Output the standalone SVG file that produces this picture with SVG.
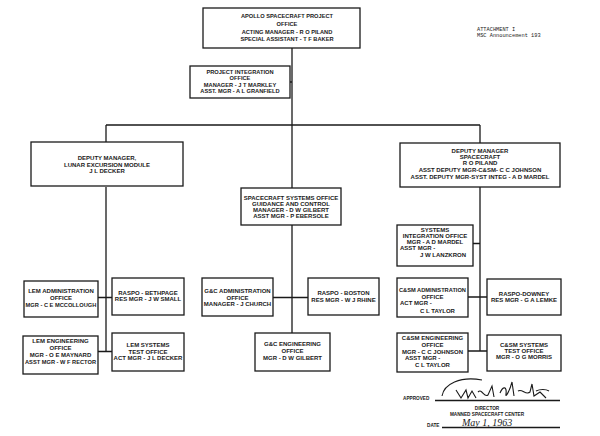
<svg xmlns="http://www.w3.org/2000/svg" width="600" height="436" viewBox="0 0 600 436">
<style>
.b{fill:#fff;stroke:#1a1a1a;stroke-width:1.3}
.t{font-family:"Liberation Sans",Arial,sans-serif;font-weight:bold;font-size:6px;fill:#1a1a1a;text-anchor:middle}
.k{font-size:5.7px}
.s{text-anchor:start}
.c{stroke:#1a1a1a;stroke-width:1.3;fill:none}
.a{font-family:"Liberation Sans",Arial,sans-serif;font-weight:bold;font-size:4.7px;fill:#1a1a1a}
.m{font-family:"Liberation Mono","Courier New",monospace;font-size:5.3px;fill:#1a1a1a}
.h{font-family:"Liberation Serif","Times New Roman",serif;font-style:italic;font-size:10px;fill:#1a1a1a}
</style>
<rect width="600" height="436" fill="#fff"/>
<g id="connectors">
<path class="c" d="M292 48V188M290 82H292M106 125H480M106 125V142M480 125V143M106 187V351.5M98 297.5H112M98 351.5H112M292 225V333M273 297.5H308M480 187V351M473 243.5H480M468 297H487M468 351H487"/>
</g>
<g id="apollo-office"><rect class="b" x="203" y="8" width="157" height="40"/>
<text class="t k" x="287" y="18.2">APOLLO SPACECRAFT PROJECT</text>
<text class="t k" x="287" y="26">OFFICE</text>
<text class="t k" x="287" y="33.6">ACTING MANAGER - R O PILAND</text>
<text class="t k" x="287" y="40.8">SPECIAL ASSISTANT - T F BAKER</text></g>
<g id="attachment">
<text class="m" x="477" y="31">ATTACHMENT I</text>
<text class="m" x="477" y="37">MSC Announcement 193</text></g>
<g id="project-integration"><rect class="b" x="190" y="66" width="100" height="32"/>
<text class="t k" x="240" y="74">PROJECT INTEGRATION</text>
<text class="t k" x="240" y="80.3">OFFICE</text>
<text class="t k" x="240" y="86.6">MANAGER - J T MARKLEY</text>
<text class="t k" x="240" y="92.9">ASST. MGR - A L GRANFIELD</text></g>
<g id="deputy-lem"><rect class="b" x="31" y="142" width="152" height="44"/>
<text class="t" x="107" y="160.2">DEPUTY MANAGER,</text>
<text class="t" x="107" y="166.6">LUNAR EXCURSION MODULE</text>
<text class="t" x="107" y="173">J L DECKER</text></g>
<g id="spacecraft-systems"><rect class="b" x="241" y="188" width="100" height="37"/>
<text class="t" x="291" y="199.8">SPACECRAFT SYSTEMS OFFICE</text>
<text class="t" x="291" y="206">GUIDANCE AND CONTROL</text>
<text class="t" x="291" y="212.2">MANAGER - D W GILBERT</text>
<text class="t" x="291" y="218.4">ASST MGR - P EBERSOLE</text></g>
<g id="deputy-spacecraft"><rect class="b" x="400" y="143" width="160" height="44"/>
<text class="t" x="480" y="152.8">DEPUTY MANAGER</text>
<text class="t" x="480" y="159">SPACECRAFT</text>
<text class="t" x="480" y="165.4">R O PILAND</text>
<text class="t" x="480" y="172">ASST DEPUTY MGR-C&amp;SM- C C JOHNSON</text>
<text class="t" x="480" y="178.6">ASST. DEPUTY MGR-SYST INTEG - A D MARDEL</text></g>
<g id="systems-integration"><rect class="b" x="397" y="225" width="76" height="41"/>
<text class="t" x="435" y="232">SYSTEMS</text>
<text class="t" x="435" y="238">INTEGRATION OFFICE</text>
<text class="t" x="435" y="244.4">MGR - A D MARDEL</text>
<text class="t s" x="400" y="250.4">ASST MGR -</text>
<text class="t s" x="420" y="256.6">J W LANZKRON</text></g>
<g id="lem-admin"><rect class="b" x="24" y="281" width="74" height="36"/>
<text class="t" x="61" y="293">LEM ADMINISTRATION</text>
<text class="t" x="61" y="299.7">OFFICE</text>
<text class="t k" x="61" y="306.5">MGR - C E MCCOLLOUGH</text></g>
<g id="raspo-bethpage"><rect class="b" x="112" y="278" width="72" height="37"/>
<text class="t" x="148" y="295.4">RASPO - BETHPAGE</text>
<text class="t" x="148" y="301.4">RES MGR - J W SMALL</text></g>
<g id="lem-engineering"><rect class="b" x="23" y="336" width="75" height="38"/>
<text class="t" x="60.5" y="343">LEM ENGINEERING</text>
<text class="t" x="60.5" y="349.6">OFFICE</text>
<text class="t" x="60.5" y="357">MGR - O E MAYNARD</text>
<text class="t k" x="60.5" y="364.4">ASST MGR - W F RECTOR</text></g>
<g id="lem-systems-test"><rect class="b" x="112" y="333" width="72" height="38"/>
<text class="t" x="148" y="347">LEM SYSTEMS</text>
<text class="t" x="148" y="353.6">TEST OFFICE</text>
<text class="t" x="148" y="360.2">ACT MGR - J L DECKER</text></g>
<g id="gc-admin"><rect class="b" x="202" y="278" width="71" height="38"/>
<text class="t" x="237.5" y="293">G&amp;C ADMINISTRATION</text>
<text class="t" x="237.5" y="299.7">OFFICE</text>
<text class="t" x="237.5" y="306.4">MANAGER - J CHURCH</text></g>
<g id="raspo-boston"><rect class="b" x="308" y="278" width="71" height="37"/>
<text class="t" x="343.5" y="295.4">RASPO - BOSTON</text>
<text class="t" x="343.5" y="301.6">RES MGR - W J RHINE</text></g>
<g id="gc-engineering"><rect class="b" x="255" y="333" width="75" height="38"/>
<text class="t" x="292.5" y="346.4">G&amp;C ENGINEERING</text>
<text class="t" x="292.5" y="353">OFFICE</text>
<text class="t" x="292.5" y="359.8">MGR - D W GILBERT</text></g>
<g id="csm-admin"><rect class="b" x="397" y="278" width="71" height="39"/>
<text class="t k" x="432.5" y="292">C&amp;SM ADMINISTRATION</text>
<text class="t" x="432.5" y="298.8">OFFICE</text>
<text class="t s" x="400" y="305.4">ACT MGR -</text>
<text class="t s" x="420" y="312.6">C L TAYLOR</text></g>
<g id="raspo-downey"><rect class="b" x="487" y="279" width="74" height="36"/>
<text class="t" x="524" y="295.5">RASPO-DOWNEY</text>
<text class="t" x="524" y="301.6">RES MGR - G A LEMKE</text></g>
<g id="csm-engineering"><rect class="b" x="397" y="333" width="71" height="39"/>
<text class="t" x="432.5" y="339.9">C&amp;SM ENGINEERING</text>
<text class="t" x="432.5" y="347">OFFICE</text>
<text class="t" x="432.5" y="353.8">MGR - C C JOHNSON</text>
<text class="t s" x="405" y="360.4">ASST MGR -</text>
<text class="t s" x="415" y="367.2">C L TAYLOR</text></g>
<g id="csm-systems-test"><rect class="b" x="487" y="335" width="74" height="36"/>
<text class="t" x="524" y="347">C&amp;SM SYSTEMS</text>
<text class="t" x="524" y="352.8">TEST OFFICE</text>
<text class="t" x="524" y="359.4">MGR - O G MORRIS</text></g>
<g id="approval">
<text class="a" x="403" y="400">APPROVED</text>
<path class="c" stroke-width="0.9" d="M435 400.5H560M442 427.5H560"/>
<path fill="none" stroke="#1a1a1a" stroke-width="1.1" d="M442 396C444 384 460 376 482 380M456 390L461 398L466 390L468 398L472 391L476 398M478 392C482 388 484 398 488 395L492 386L494 397M500 393C503 386 507 386 506 394C505 399 510 390 512 382L514 396M518 391C522 388 526 396 530 392L532 384L534 396L540 392L546 398M536 391C540 389 546 389 549 391"/>
<text class="a" x="487" y="409.5" text-anchor="middle">DIRECTOR</text>
<text class="a" x="487" y="415.5" text-anchor="middle">MANNED SPACECRAFT CENTER</text>
<text class="a" x="427" y="427">DATE</text>
<text class="h" x="462" y="425.5">May 1, 1963</text>
</g>
</svg>
